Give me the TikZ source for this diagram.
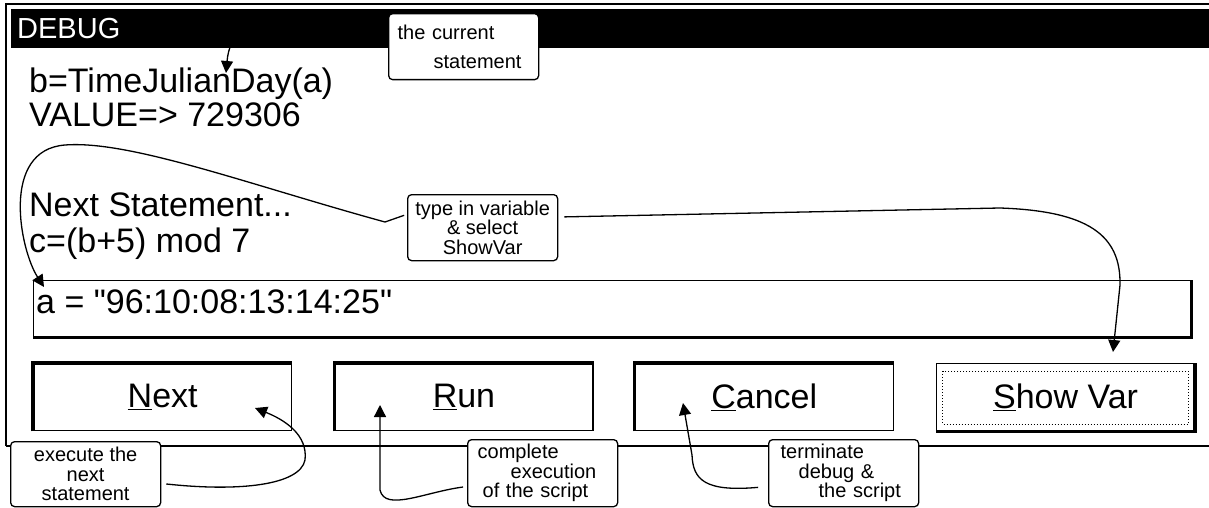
\documentclass[tikz,border=0pt]{standalone}
\usepackage{fontspec}
\setmainfont{Liberation Sans}[Ligatures=TeXOff]
\usetikzlibrary{positioning,arrows.meta}

\begin{document}
\begin{tikzpicture}[x=1pt,y=-1pt,
  big/.style={font=\fontsize{34}{38}\selectfont, inner sep=0pt},
  note/.style={draw, rounded corners=4pt, line width=1.3pt, fill=white, inner sep=0pt, minimum width=150pt, minimum height=66pt, font=\fontsize{20}{19.5}\selectfont},
  button/.style={draw, line width=1.3pt, minimum width=258pt, minimum height=67pt, inner sep=0pt, font=\fontsize{34}{38}\selectfont},
  raised/.style={line width=3.5pt},
  pointer/.style={line width=1.3pt, -{Triangle[length=12pt,width=12pt]}}]
\useasboundingbox (0,0) rectangle (1209,508);

\draw[line width=2pt] (6,446) -- (6,4) -- (1209,4);
\fill (11,9) rectangle (1209,48);
\draw[line width=2pt] (6,446) -- (1209,446);
\node (title) [anchor=base west, text=white, inner sep=0pt, font=\fontsize{29}{32}\selectfont] at (17,39) {DEBUG};

\node (stmt) [big, anchor=base west] at (29,93) {b=TimeJulianDay(a)};
\node (value) [big, anchor=base west] at (29,127) {VALUE=> 729306};
\node (nexthead) [big, anchor=base west] at (29,216) {Next Statement...};
\node (nextstmt) [big, anchor=base west] at (29,252) {c=(b+5) mod 7};

\node (field) [draw, line width=1.3pt, minimum width=1157pt, minimum height=56pt, inner sep=0pt, anchor=north west] at (33,280) {};
\draw[raised] (field.south west) -- (field.south east) -- (field.north east);
\node (entry) [big, anchor=base west] at (36,313) {a = "96:10:08:13:14:25"};

\node (next) [button, anchor=north west] at (33,363) {\underline{N}ext};
\node (run) [button, right=42pt of next] {\underline{R}un};
\node (cancel) [button, right=41pt of run] {\underline{C}ancel};
\node (showvar) [button, right=42pt of cancel] {\underline{S}how Var};
\foreach \b in {next,run,cancel}
  \draw[raised] (\b.south west) -- (\b.north west) -- (\b.north east);
\draw[raised] (showvar.south west) -- (showvar.south east) -- (showvar.north east);
\draw[dotted, line width=1pt] ([shift={(7pt,-8pt)}]showvar.north west) rectangle ([shift={(-7pt,7pt)}]showvar.south east);

\node (current) [note, anchor=north west, text width=132pt, align=left] at (388,13) {the current\\[9pt]\hspace*{36pt}statement};
\node (type) [note, anchor=north west, align=center] at (407,194) {type in variable\\\& select\\ShowVar};
\node (exec) [note, anchor=north west, align=center, minimum height=65pt] at (10,441) {execute the\\next\\statement};
\node (complete) [note, anchor=north west, text width=140pt, align=left, minimum height=67pt] at (467,439) {\hspace*{5pt}complete\\\hspace*{38pt}execution\\\hspace*{10pt}of the script};
\node (terminate) [note, anchor=north west, text width=140pt, align=left, minimum height=67pt] at (768,439) {\hspace*{7pt}terminate\\\hspace*{25pt}debug \&\\\hspace*{45pt}the script};

\coordinate (tipstmt) at (226,73);
\coordinate (tipentry) at (44,287);
\coordinate (tipnext) at (255,408);
\coordinate (tiprun) at (380,405);
\coordinate (tipcancel) at (683,403);
\coordinate (tipshow) at (1113,352);

\draw[pointer, shorten <=16pt] (current.163) .. controls (300,10) and (232,5) .. (tipstmt);
\draw[pointer, shorten <=3pt] (type.170) -- (385,222) .. controls (250,185) and (130,140) .. (65,145) .. controls (0,150) and (20,250) .. (tipentry);
\draw[pointer, shorten <=6pt] (type.8) -- (1000,208) .. controls (1088,211) and (1121,235) .. (1120,285) -- (tipshow);
\draw[pointer, shorten <=5pt] (exec.-7) .. controls (240,492) and (300,485) .. (305,460) .. controls (308,435) and (285,420) .. (tipnext);
\draw[pointer, shorten <=4pt] (complete.190) .. controls (425,492) and (385,512) .. (380,490) -- (tiprun);
\draw[pointer, shorten <=10pt] (terminate.190) .. controls (705,492) and (693,480) .. (692,455) -- (tipcancel);
\end{tikzpicture}
\end{document}
